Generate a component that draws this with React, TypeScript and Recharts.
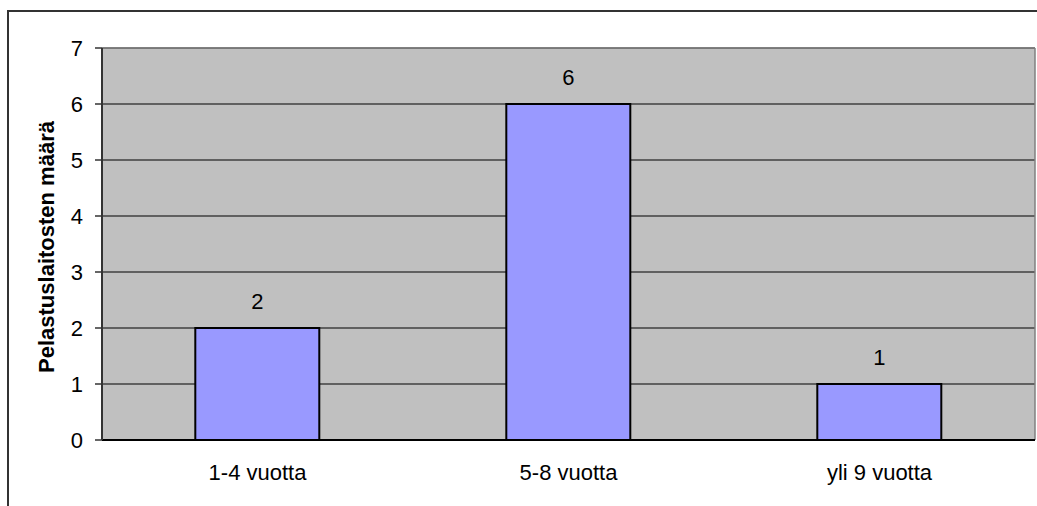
import { Bar, BarChart, CartesianGrid, LabelList, XAxis, YAxis } from "recharts";

const categories = ["1-4 vuotta", "5-8 vuotta", "yli 9 vuotta"];
const counts = [2, 6, 1];
const yTicks = [0, 1, 2, 3, 4, 5, 6, 7];
const edgeTicks = [0, 1, 2, 3];
const yLabel = "Pelastuslaitosten määrä";

const FONT = '"Liberation Sans", Arial, sans-serif';

const data = categories.map((name, i) => ({ name, value: counts[i] }));

export default function App() {
  return (
    <div style={{ position: "absolute", left: 0, top: 0, width: 1037, height: 506, background: "#fff", overflow: "hidden", fontFamily: FONT }}>
      {/* frame around the chart area */}
      <div
        style={{
          position: "absolute",
          left: 7,
          top: 10,
          width: 1040,
          height: 510,
          borderTop: "2px solid #333",
          borderLeft: "2px solid #333",
        }}
      />
      <div style={{ position: "absolute", left: 0, top: 0 }}>
        <BarChart
          width={1037}
          height={506}
          data={data}
          margin={{ top: 48, right: 2, left: 0, bottom: 0 }}
          barCategoryGap="30%"
        >
          <CartesianGrid
            vertical={false}
            stroke="#000"
            strokeWidth={1.2}
            fill="#C0C0C0"
            fillOpacity={1}
          />
          {/* grey top and right edges of the plot */}
          <CartesianGrid
            stroke="#808080"
            strokeWidth={1.5}
            horizontalCoordinatesGenerator={({ offset }: any) => [offset.top]}
            verticalCoordinatesGenerator={({ offset }: any) => [offset.left + offset.width]}
          />
          <XAxis
            xAxisId="edges"
            type="number"
            domain={[0, 3]}
            ticks={edgeTicks}
            height={0}
            axisLine={false}
            tickLine={{ stroke: "#333", strokeWidth: 1.5 }}
            tickSize={7}
            tickFormatter={() => ""}
          />
          <XAxis
            xAxisId="cat"
            dataKey="name"
            height={66}
            axisLine={{ stroke: "#000", strokeWidth: 2 }}
            tickLine={false}
            tickSize={0}
            tickMargin={24}
            tick={{ fill: "#000", fontSize: 22, fontFamily: FONT }}
          />
          <YAxis
            width={102}
            domain={[0, 7]}
            ticks={yTicks}
            interval={0}
            axisLine={{ stroke: "#333", strokeWidth: 2 }}
            tickLine={{ stroke: "#333", strokeWidth: 1.5 }}
            tickSize={7}
            tickMargin={12}
            tick={{ fill: "#000", fontSize: 22, fontFamily: FONT }}
            label={{
              value: yLabel,
              angle: -90,
              position: "center",
              dx: -5,
              dy: 3,
              fill: "#000",
              fontSize: 22,
              fontWeight: "bold",
              fontFamily: FONT,
            }}
          />
          <Bar
            xAxisId="cat"
            dataKey="value"
            fill="#9999FF"
            stroke="#000"
            strokeWidth={2}
            isAnimationActive={false}
          >
            <LabelList dataKey="value" position="top" offset={19} fill="#000" fontSize={22} fontFamily={FONT} />
          </Bar>
        </BarChart>
      </div>
    </div>
  );
}
